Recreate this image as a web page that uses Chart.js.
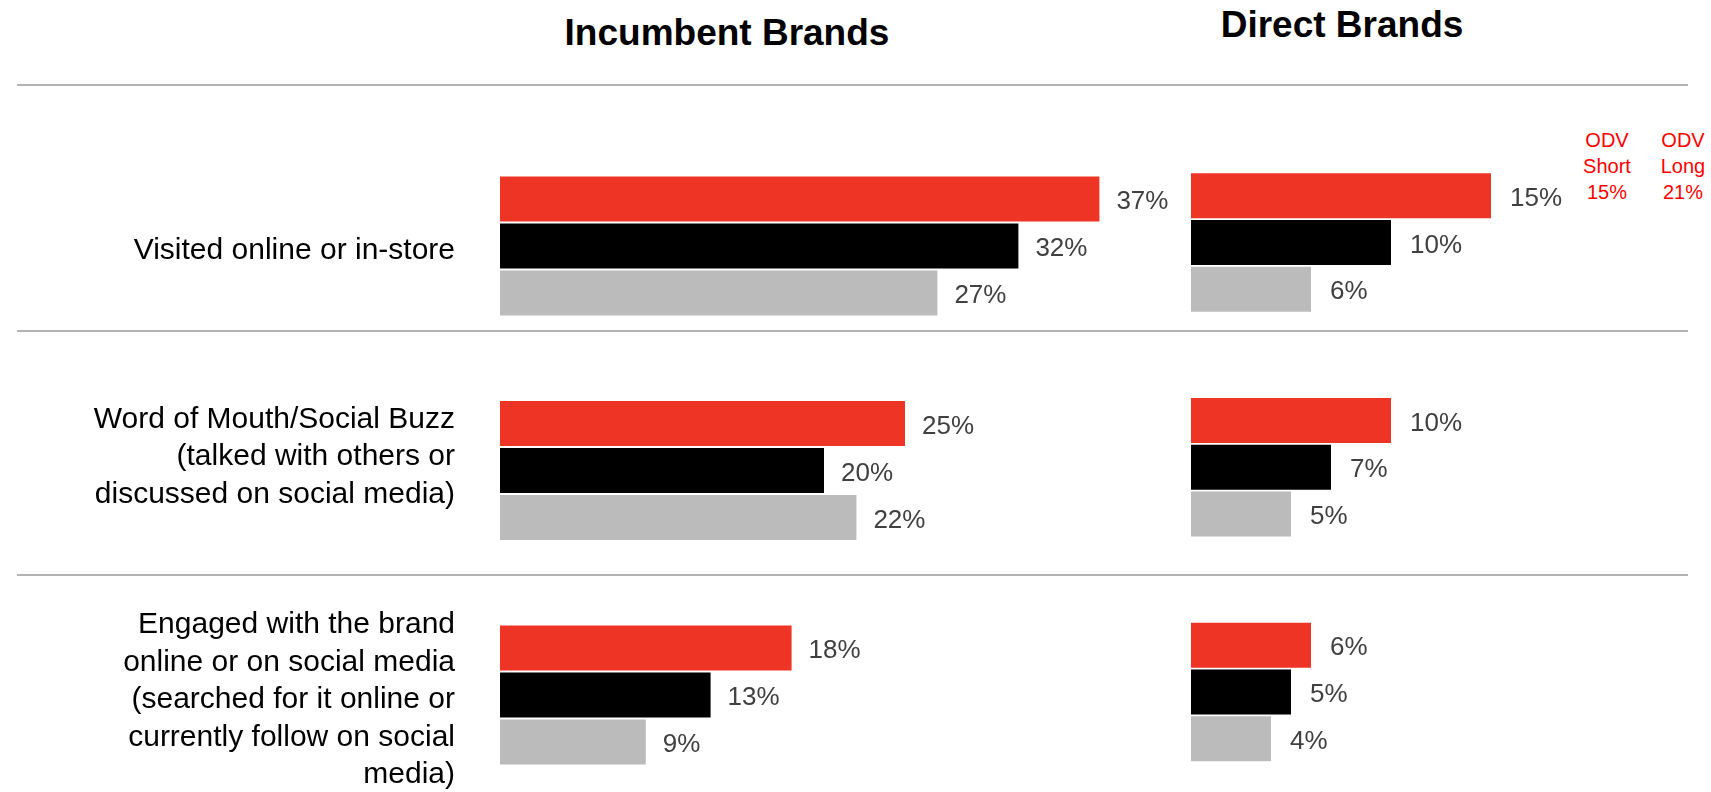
<!DOCTYPE html>
<html>
<head>
<meta charset="utf-8">
<title>Incumbent vs Direct Brands</title>
<script src="https://cdn.jsdelivr.net/npm/chart.js@4"></script>
<style>
  body { margin: 0; background: #fff; font-family: "Liberation Sans", Arial, sans-serif; }
  #page { position: relative; width: 1711px; height: 792px; overflow: hidden; }
  canvas { position: absolute; top: 0; }
  .title { position: absolute; font-weight: bold; font-size: 37px; line-height: 37px; white-space: nowrap; transform: translateX(-50%); color: #000; }
  .rule { position: absolute; left: 17px; width: 1671px; height: 2px; background: #b3b3b3; }
  .odv { position: absolute; top: 127px; color: #ff0000; font-size: 20px; line-height: 26px; text-align: center; white-space: nowrap; transform: translateX(-50%); }
</style>
</head>
<body>
<div id="page">
  <div class="title" style="left:727px; top:14px;">Incumbent Brands</div>
  <div class="title" style="left:1342px; top:6px;">Direct Brands</div>
  <div class="rule" style="top:84px;"></div>
  <div class="rule" style="top:330px;"></div>
  <div class="rule" style="top:574px;"></div>
  <div class="odv" style="left:1607px;">ODV<br>Short<br>15%</div>
  <div class="odv" style="left:1683px;">ODV<br>Long<br>21%</div>
  <canvas id="incumbent" width="1180" height="792" style="left:0;"></canvas>
  <canvas id="direct" width="531" height="792" style="left:1180px;"></canvas>
</div>
<script>
// category labels, one line per array entry
const categories = [
  ["Visited online or in-store"],
  ["Word of Mouth/Social Buzz", "(talked with others or", "discussed on social media)", ""],
  ["Engaged with the brand", "online or on social media", "(searched for it online or", "currently follow on social", "media)"]
];

const incumbentRed = [37, 25, 18];
const incumbentBlack = [32, 20, 13];
const incumbentGray = [27, 22, 9];

const directRed = [15, 10, 6];
const directBlack = [10, 7, 5];
const directGray = [6, 5, 4];

const barColors = ["#ee3424", "#000000", "#bbbbbb"];
const fontFamily = "'Liberation Sans', Arial, sans-serif";

Chart.defaults.font.family = fontFamily;

// writes "NN%" just past the end of every bar
const valueLabels = {
  id: "valueLabels",
  afterDatasetsDraw(chart, args, opts) {
    const ctx = chart.ctx;
    ctx.save();
    ctx.font = "26px " + fontFamily;
    ctx.fillStyle = "#404040";
    ctx.textAlign = "left";
    ctx.textBaseline = "middle";
    chart.data.datasets.forEach((ds, i) => {
      chart.getDatasetMeta(i).data.forEach((bar, j) => {
        ctx.fillText(ds.data[j] + "%", bar.x + opts.gap, bar.y + 3);
      });
    });
    ctx.restore();
  }
};

function makeDatasets(series) {
  return series.map((values, i) => ({
    label: "Series " + (i + 1),
    data: values,
    backgroundColor: barColors[i],
    borderWidth: 0,
    clip: false
  }));
}

let incumbentChart = new Chart(document.getElementById("incumbent"), {
  type: "bar",
  data: {
    labels: categories,
    datasets: makeDatasets([incumbentRed, incumbentBlack, incumbentGray])
  },
  options: {
    indexAxis: "y",
    responsive: false,
    animation: false,
    devicePixelRatio: 1,
    layout: { padding: { top: 246, bottom: 97, left: 0, right: 32 } },
    datasets: { bar: { categoryPercentage: 0.628, barPercentage: 0.957 } },
    plugins: {
      legend: { display: false },
      tooltip: { enabled: false },
      valueLabels: { gap: 17 }
    },
    scales: {
      x: { display: false, min: 0, max: 40 },
      y: {
        offset: false,
        grid: { display: false },
        border: { display: false },
        ticks: {
          color: "#000",
          padding: 37,
          labelOffset: 5,
          autoSkip: false,
          font: { size: 30, lineHeight: 1.25 }
        },
        afterFit(scale) {
          scale.width = 500;
        }
      }
    }
  },
  plugins: [valueLabels]
});

let directChart = new Chart(document.getElementById("direct"), {
  type: "bar",
  data: {
    labels: categories,
    datasets: makeDatasets([directRed, directBlack, directGray])
  },
  options: {
    indexAxis: "y",
    responsive: false,
    animation: false,
    devicePixelRatio: 1,
    layout: { padding: { top: 242.5, bottom: 100, left: 11, right: 20 } },
    datasets: { bar: { categoryPercentage: 0.623, barPercentage: 0.964 } },
    plugins: {
      legend: { display: false },
      tooltip: { enabled: false },
      valueLabels: { gap: 19 }
    },
    scales: {
      x: { display: false, min: 0, max: 25 },
      y: { display: false, offset: false }
    }
  },
  plugins: [valueLabels]
});
</script>
</body>
</html>
